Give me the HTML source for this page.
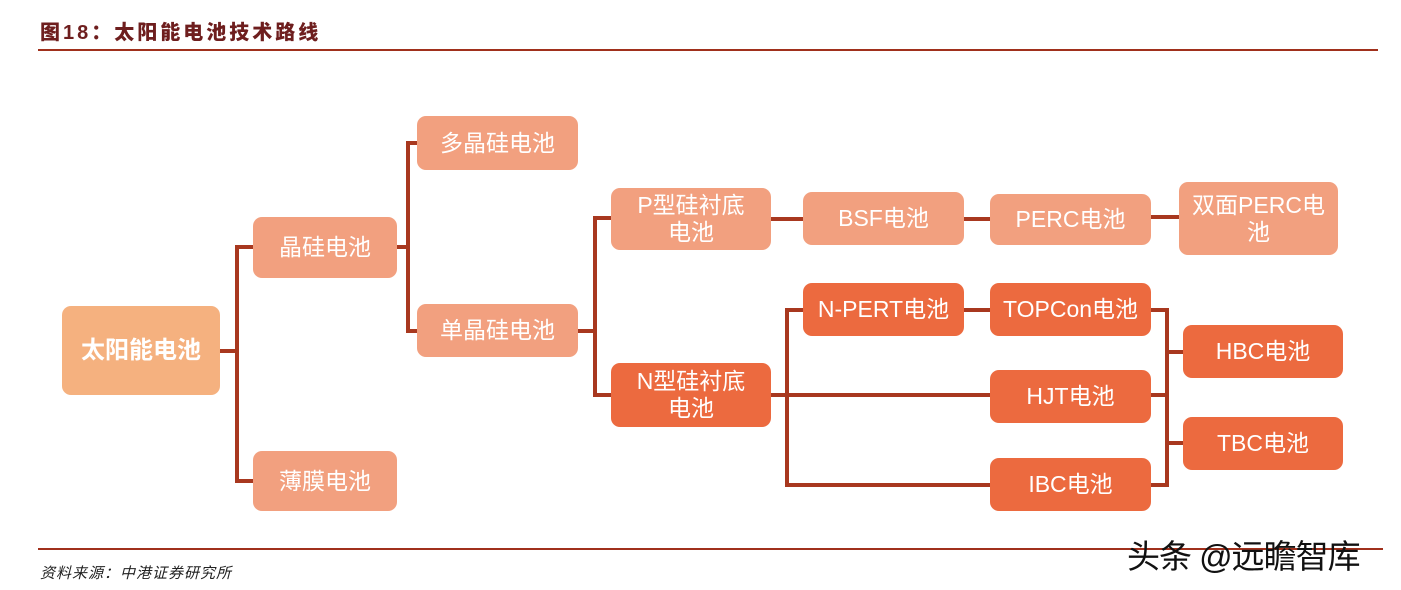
<!DOCTYPE html>
<html><head><meta charset="utf-8"><style>
body{margin:0;width:1401px;height:590px;background:#fff;position:relative;overflow:hidden;font-family:"Liberation Sans","Noto Sans CJK SC",sans-serif}
.b{position:absolute;border-radius:9px;color:#fff;display:flex;align-items:center;justify-content:center;text-align:center;font-size:23px;line-height:27px}
.l{background:#F2A07F}.d{background:#EC6A3F}
.h{position:absolute;background:#A8381F;height:4px}
.v{position:absolute;background:#A8381F;width:4px}
</style></head><body>
<div style="position:absolute;left:40px;top:16px;font-size:20px;font-weight:900;color:#6E1E1E;font-family:'Liberation Sans','Noto Sans CJK SC',sans-serif;letter-spacing:3px">图18：太阳能电池技术路线</div>
<div style="position:absolute;left:38px;top:49px;width:1340px;height:2px;background:#A0301C"></div>
<div style="position:absolute;left:38px;top:548px;width:1345px;height:2px;background:#A0301C"></div>
<div style="position:absolute;left:40px;top:562px;font-size:15px;font-style:italic;color:#222;letter-spacing:1px">资料来源：中港证券研究所</div>
<div style="position:absolute;left:1127px;top:530px;font-size:33px;color:#111;letter-spacing:-1px">头条 @远瞻智库</div>

<div class="h" style="left:220px;top:349px;width:18px"></div>
<div class="v" style="left:235px;top:245px;height:238px"></div>
<div class="h" style="left:235px;top:245px;width:18px"></div>
<div class="h" style="left:235px;top:479px;width:18px"></div>
<div class="h" style="left:397px;top:245px;width:12px"></div>
<div class="v" style="left:406px;top:141px;height:192px"></div>
<div class="h" style="left:406px;top:141px;width:12px"></div>
<div class="h" style="left:406px;top:329px;width:12px"></div>
<div class="h" style="left:578px;top:329px;width:18px"></div>
<div class="v" style="left:593px;top:216px;height:181px"></div>
<div class="h" style="left:593px;top:216px;width:18px"></div>
<div class="h" style="left:593px;top:393px;width:18px"></div>
<div class="h" style="left:771px;top:217px;width:32px"></div>
<div class="h" style="left:964px;top:217px;width:26px"></div>
<div class="h" style="left:1151px;top:215px;width:28px"></div>
<div class="h" style="left:771px;top:393px;width:219px"></div>
<div class="v" style="left:785px;top:308px;height:179px"></div>
<div class="h" style="left:785px;top:308px;width:18px"></div>
<div class="h" style="left:785px;top:483px;width:205px"></div>
<div class="h" style="left:964px;top:308px;width:26px"></div>
<div class="h" style="left:1151px;top:308px;width:18px"></div>
<div class="h" style="left:1151px;top:393px;width:18px"></div>
<div class="h" style="left:1151px;top:483px;width:18px"></div>
<div class="v" style="left:1165px;top:308px;height:179px"></div>
<div class="h" style="left:1165px;top:350px;width:18px"></div>
<div class="h" style="left:1165px;top:441px;width:18px"></div>

<div class="b" style="left:62px;top:306px;width:158px;height:89px;background:#F5B17F;font-weight:bold;font-size:24px">太阳能电池</div>
<div class="b l" style="left:253px;top:217px;width:144px;height:61px">晶硅电池</div>
<div class="b l" style="left:253px;top:451px;width:144px;height:60px">薄膜电池</div>
<div class="b l" style="left:417px;top:116px;width:161px;height:54px">多晶硅电池</div>
<div class="b l" style="left:417px;top:304px;width:161px;height:53px">单晶硅电池</div>
<div class="b l" style="left:611px;top:188px;width:160px;height:62px">P型硅衬底<br>电池</div>
<div class="b d" style="left:611px;top:363px;width:160px;height:64px">N型硅衬底<br>电池</div>
<div class="b l" style="left:803px;top:192px;width:161px;height:53px">BSF电池</div>
<div class="b l" style="left:990px;top:194px;width:161px;height:51px">PERC电池</div>
<div class="b l" style="left:1179px;top:182px;width:159px;height:73px">双面PERC电<br>池</div>
<div class="b d" style="left:803px;top:283px;width:161px;height:53px">N-PERT电池</div>
<div class="b d" style="left:990px;top:283px;width:161px;height:53px">TOPCon电池</div>
<div class="b d" style="left:990px;top:370px;width:161px;height:53px">HJT电池</div>
<div class="b d" style="left:990px;top:458px;width:161px;height:53px">IBC电池</div>
<div class="b d" style="left:1183px;top:325px;width:160px;height:53px">HBC电池</div>
<div class="b d" style="left:1183px;top:417px;width:160px;height:53px">TBC电池</div>
</body></html>
